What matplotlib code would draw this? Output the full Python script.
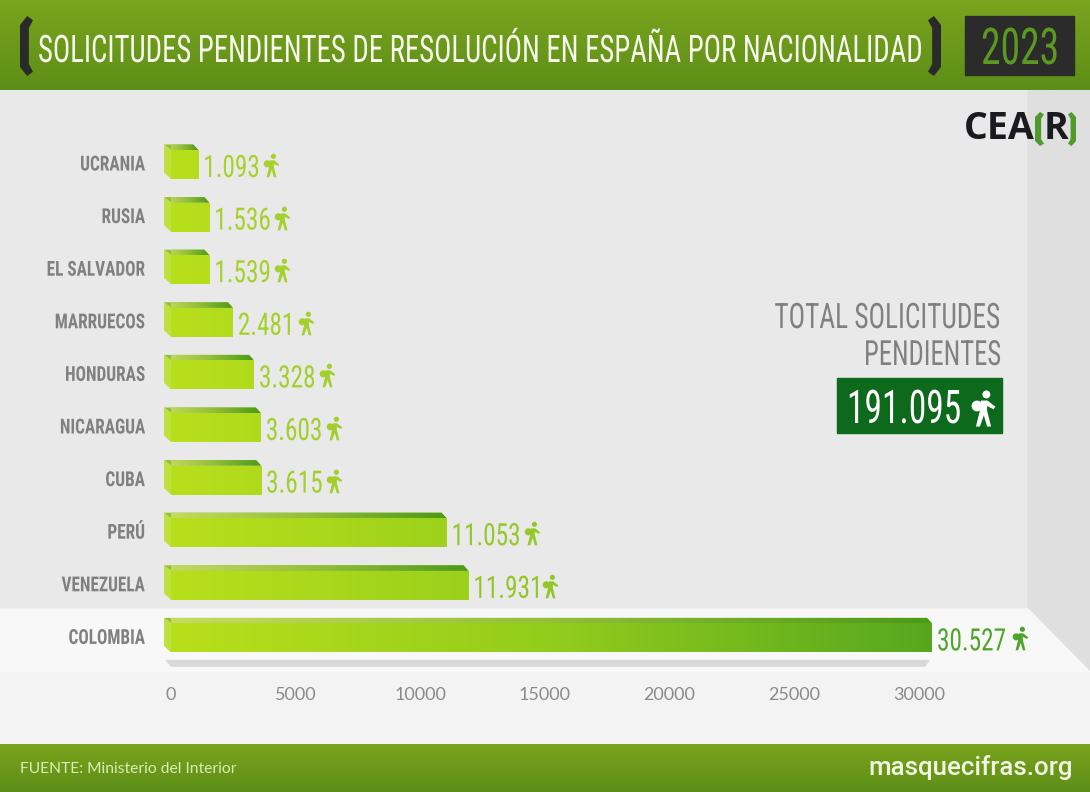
"""Solicitudes pendientes de resolucion en Espana por nacionalidad, 2023."""

import matplotlib

matplotlib.use("Agg")

import matplotlib.pyplot as plt
import numpy as np
from matplotlib.colors import LinearSegmentedColormap
from matplotlib.patches import Polygon, Rectangle
from matplotlib.path import Path
from matplotlib.patheffects import AbstractPathEffect
from matplotlib.transforms import Affine2D, ScaledTranslation

COUNTRIES = ["UCRANIA", "RUSIA", "EL SALVADOR", "MARRUECOS", "HONDURAS",
             "NICARAGUA", "CUBA", "PERÚ", "VENEZUELA", "COLOMBIA"]
PENDING = [1093, 1536, 1539, 2481, 3328, 3603, 3615, 11053, 11931, 30527]
X_TICKS = [0, 5000, 10000, 15000, 20000, 25000, 30000]
TOTAL = "191.095"
YEAR = "2023"
TITLE = "SOLICITUDES PENDIENTES DE RESOLUCIÓN EN ESPAÑA POR NACIONALIDAD"
SOURCE = "FUENTE: Ministerio del Interior"
SITE = "masquecifras.org"

W, H = 1090, 792
NARROW = ["Liberation Sans Narrow", "Roboto Condensed", "Open Sans Condensed", "Liberation Sans"]

# pixel layout of the bar area
PX_ZERO = 171
PX_PER_UNIT = (932 - 171) / 30527
PX_ROW0 = 164.5
PX_ROW_STEP = 52.6
BAR_PX = 29
ICON_GAP_PX = [73, 73, 73, 73, 73, 73, 73, 85, 82, 88]

BAR_CMAP = LinearSegmentedColormap.from_list("bar", ["#b8df1b", "#93cc1c", "#57a71f"])
TOP_CMAP = LinearSegmentedColormap.from_list("top", ["#c6dc62", "#93bf3a", "#4b9a18"])
TEXT_CMAP = LinearSegmentedColormap.from_list("txt", ["#a9d22c", "#8cc42a", "#4fa52b"])
HEAD_CMAP = LinearSegmentedColormap.from_list("head", ["#7aa41d", "#5e8e18"])

# walking figure with backpack, used as a marker
HIKER = Path.make_compound_path(
    Path.circle((0.16, 0.78), 0.22),
    Path.circle((-0.36, 0.14), 0.30),
    Path([(-0.42, -1.0), (-0.2, -1.0), (0.02, -0.38), (0.2, -1.0), (0.42, -1.0),
          (0.2, -0.12), (0.2, 0.14), (0.55, -0.04), (0.66, 0.1), (0.22, 0.44),
          (-0.14, 0.44), (-0.2, -0.12), (-0.42, -1.0)]),
)


class Tall(AbstractPathEffect):
    """Stretch glyphs upward from the baseline, the source face is more condensed than ours."""

    def __init__(self, sy):
        super().__init__()
        self.sy = sy

    def draw_path(self, renderer, gc, tpath, affine, rgbFace=None):
        renderer.draw_path(gc, tpath, Affine2D().scale(1, self.sy) + affine, rgbFace)


def narrow_text(ax, x, y, s, size, sy, color, ha="left", transform=None):
    return ax.text(x, y, s, family=NARROW, fontsize=size, color=color, ha=ha, va="baseline", zorder=6,
                   path_effects=[Tall(sy)], clip_on=False,
                   transform=ax.transData if transform is None else transform)


def bracket(ax, x_tip, x_spine, top, bottom, color):
    """Chunky bracket with pointed ears."""
    w = x_tip - x_spine
    h = bottom - top
    peak = x_spine + w * 0.55
    inner = x_spine + w * 0.68
    ax.add_patch(Polygon(
        [(x_tip, top + h * 0.07), (peak, top), (x_spine, top + h * 0.15), (x_spine, bottom - h * 0.15),
         (peak, bottom), (x_tip, bottom - h * 0.07), (inner, bottom - h * 0.2), (inner, top + h * 0.2)],
        closed=True, facecolor=color, edgecolor="none", zorder=5))


def band(ax, cmap, top, bottom):
    grad = np.linspace(0, 1, 64).reshape(-1, 1)
    ax.imshow(grad, cmap=cmap, extent=(0, W, bottom, top), aspect="auto", zorder=3)


fig = plt.figure(figsize=(W / 100, H / 100), dpi=100, facecolor="#e9e9e9")

# page furniture in pixel coordinates
bg = fig.add_axes([0, 0, 1, 1], zorder=0)
bg.axis("off")
bg.add_patch(Rectangle((0, 90), W, 519, color="#e9e9e9", zorder=1))
bg.add_patch(Polygon([(1028, 90), (W, 90), (W, 672), (1028, 609)], color="#dfdfdf", zorder=1))
bg.add_patch(Polygon([(0, 609), (1028, 609), (W, 672), (0, 672)], color="#f8f8f8", zorder=1))
bg.add_patch(Rectangle((0, 672), W, 72, color="#f3f3f3", zorder=1))
band(bg, HEAD_CMAP, 0, 90)
band(bg, HEAD_CMAP, 744, 792)
bg.set_xlim(0, W)
bg.set_ylim(H, 0)

narrow_text(bg, 38, 62, TITLE, 20.7, 1.32, "#f7f9ee")
bracket(bg, 33, 20, 16, 76, "#2a2a2a")
bracket(bg, 928, 941, 16, 76, "#2a2a2a")
bg.add_patch(Rectangle((965, 16), 109, 59, color="#2b2b2b", zorder=5))
narrow_text(bg, 981, 64, YEAR, 28.5, 1.28, "#5a9a20")

bg.text(964, 129, "CEA", family="Open Sans", weight="bold", fontsize=27, color="#1b1b1f", ha="left", va="center", zorder=6)
bg.text(1044, 129, "R", family="Open Sans", weight="bold", fontsize=27, color="#1b1b1f", ha="left", va="center", zorder=6)
bracket(bg, 1044, 1035, 112, 146, "#4f9a2a")
bracket(bg, 1068, 1076, 112, 146, "#4f9a2a")

narrow_text(bg, 1001, 328, "TOTAL SOLICITUDES", 19.7, 1.28, "#808080", ha="right")
narrow_text(bg, 1001, 365, "PENDIENTES", 19.2, 1.3, "#808080", ha="right")
bg.add_patch(Rectangle((837, 378), 165, 55, color="#0d6a1c", zorder=5))
narrow_text(bg, 847, 423, TOTAL, 25.5, 1.31, "white")
bg.plot([983], [408], marker=HIKER, ms=26, mfc="white", mew=0, zorder=6)

bg.text(20, 769, SOURCE, family="Lato", fontsize=11.25, color="#dcebb4", ha="left", va="center", zorder=6)
bg.text(1073, 768, SITE, family="Roboto", weight="medium", fontsize=18.6, color="#f2f7e4", ha="right", va="center", zorder=6)

# bars
ax = fig.add_axes([PX_ZERO / W, 0, (W - PX_ZERO) / W, 1], zorder=1)
ax.patch.set_visible(False)
y_top_lim, y_bottom_lim = -0.9, 9.6
px_top = PX_ROW0 + y_top_lim * PX_ROW_STEP
px_bottom = PX_ROW0 + y_bottom_lim * PX_ROW_STEP
ax.set_position([PX_ZERO / W, 1 - px_bottom / H, (W - PX_ZERO) / W, (px_bottom - px_top) / H])

y = np.arange(len(COUNTRIES))
x_lim = (W - PX_ZERO) / PX_PER_UNIT
dx = 7 / PX_PER_UNIT            # side face depth
dx_end = 5 / PX_PER_UNIT        # top face inset at the far end
dy = 5.5 / PX_ROW_STEP
bar_h = BAR_PX / PX_ROW_STEP
max_v = max(PENDING)

bars = ax.barh(y, PENDING, height=bar_h, color="#a0d01c", zorder=2)
for i, (v, rect) in enumerate(zip(PENDING, bars)):
    # front face, colour follows the x position
    im = ax.imshow(np.linspace(0, v / max_v, 256).reshape(1, -1), cmap=BAR_CMAP, vmin=0, vmax=1,
                   extent=(0, v, i + bar_h / 2, i - bar_h / 2), aspect="auto", zorder=3)
    im.set_clip_path(rect)

    top = i - bar_h / 2
    bottom = i + bar_h / 2
    face = Polygon([(-dx, top - dy), (v - dx_end, top - dy), (v, top), (0, top)],
                   closed=True, facecolor="#93bf3a", edgecolor="none", zorder=2, clip_on=False)
    ax.add_patch(face)
    im = ax.imshow(np.linspace(0, 1, 256).reshape(1, -1), cmap=TOP_CMAP,
                   extent=(-dx, v, top, top - dy), aspect="auto", zorder=3)
    im.set_clip_path(face)

    ax.add_patch(Polygon([(-dx, top - dy), (0, top), (0, bottom), (-dx, bottom - dy - 1 / PX_ROW_STEP)],
                         closed=True, facecolor="#c0e040", edgecolor="none", zorder=4, clip_on=False))

    color = TEXT_CMAP(v / max_v)
    label = f"{v:,}".replace(",", ".")
    label_shift = ScaledTranslation(5 * 0.72 / 72, -12.5 * 0.72 / 72, fig.dpi_scale_trans)
    narrow_text(ax, v, i, label, 18.2, 1.22, color, transform=ax.transData + label_shift)
    icon_shift = ScaledTranslation(ICON_GAP_PX[i] * 0.72 / 72, -0.5 * 0.72 / 72, fig.dpi_scale_trans)
    ax.plot([v], [i], marker=HIKER, ms=17, mfc=color, mew=0, zorder=6, clip_on=False,
            transform=ax.transData + icon_shift)

# ground shadow under the longest bar
shadow_top = y[-1] + 22 / PX_ROW_STEP
shadow_bottom = y[-1] + 29 / PX_ROW_STEP
ax.add_patch(Polygon([(-6 / PX_PER_UNIT, shadow_top), (max_v - 2 / PX_PER_UNIT, shadow_top),
                      (max_v - 7 / PX_PER_UNIT, shadow_bottom), (0, shadow_bottom)],
                     closed=True, facecolor="#d9d9d9", edgecolor="none", zorder=1, clip_on=False))

ax.set_xlim(0, x_lim)
ax.set_ylim(y_bottom_lim, y_top_lim)
ax.set_xticks(X_TICKS)
ax.set_xticklabels([str(t) for t in X_TICKS], family="Lato", fontsize=13, color="#8a8a8a")
ax.set_yticks(y)
ax.set_yticklabels(COUNTRIES, family=NARROW, weight="bold", fontsize=12.4, color="#808080",
                   path_effects=[Tall(1.2)])
ax.tick_params(axis="x", length=0, pad=12.5)
ax.tick_params(axis="y", length=0, pad=18.7)
for spine in ax.spines.values():
    spine.set_visible(False)

fig.savefig("out.png", dpi=100, facecolor=fig.get_facecolor())
